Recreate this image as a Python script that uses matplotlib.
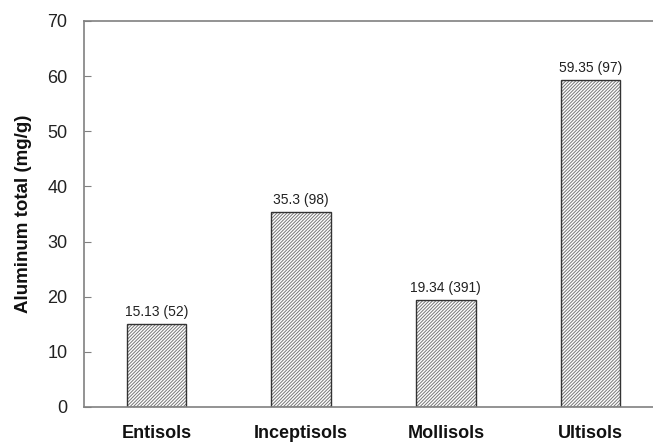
import matplotlib
matplotlib.use("Agg")
import matplotlib.pyplot as plt

plt.rcParams['font.family'] = ['Liberation Sans', 'DejaVu Sans']
plt.rcParams['hatch.linewidth'] = 0.7

categories = ["Entisols", "Inceptisols", "Mollisols", "Ultisols"]
values = [15.13, 35.3, 19.34, 59.35]
counts = [52, 98, 391, 97]
yticks = [0, 10, 20, 30, 40, 50, 60, 70]

fig = plt.figure(figsize=(6.53, 4.43), dpi=100)
ax = fig.add_axes([0.1286, 0.0813, 0.8867, 0.8713])

x = list(range(len(categories)))
# hatch layer
ax.bar(x, values, width=0.41, color='white', edgecolor='#777777',
       linewidth=0, hatch='//////////')
# outline layer
ax.bar(x, values, width=0.41, color='none', edgecolor='#333333',
       linewidth=1.0)
for xi, v, n in zip(x, values, counts):
    ax.text(xi, v + 0.9, f"{v:g} ({n})", ha='center', va='bottom',
            fontsize=10, color='#222222')

ax.set_xlim(-0.5, 3.5)
ax.set_ylim(0, 70)
ax.set_yticks(yticks)
ax.set_xticks(x)
ax.set_xticklabels(categories, fontsize=13, fontweight='bold', color='#111111')
ax.tick_params(axis='x', length=0, pad=13)
ax.tick_params(axis='y', direction='in', length=5, color='#808080',
               labelsize=13, pad=12, labelcolor='#222222')
ax.set_ylabel("Aluminum total (mg/g)", fontsize=13.5, fontweight='bold',
              labelpad=11, color='#111111')
for s in ['left', 'top', 'bottom']:
    ax.spines[s].set_color('#808080')
    ax.spines[s].set_linewidth(1.2)
ax.spines['right'].set_visible(False)

fig.savefig("out.png", dpi=100)
